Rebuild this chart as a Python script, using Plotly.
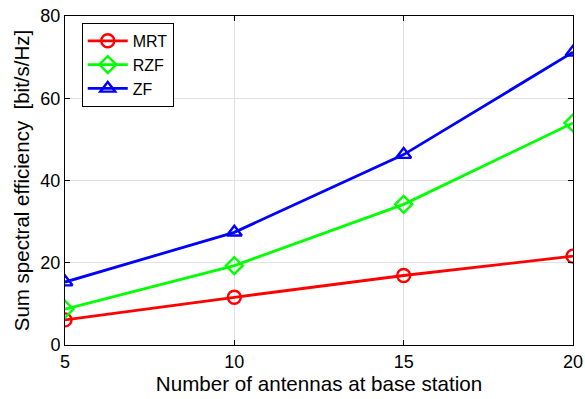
import plotly.graph_objects as go

antennas = [5, 10, 15, 20]
mrt = [6.1, 11.6, 16.9, 21.6]
rzf = [8.7, 19.3, 34.2, 54.0]
zf = [15.3, 27.4, 46.3, 71.2]

series = [("MRT", mrt, "#ff0000", "circle-open"),
          ("RZF", rzf, "#00ff00", "diamond-open"),
          ("ZF", zf, "#0000ff", "triangle-up-open")]

fig = go.Figure()
for name, vals, col, sym in series:
    fig.add_trace(go.Scatter(x=antennas, y=vals, name=name, mode="lines+markers",
                             line=dict(color=col, width=2.8),
                             marker=dict(symbol=sym, size=13, color=col,
                                         line=dict(color=col, width=2.4))))

axis_common = dict(showline=True, linecolor="black", linewidth=1, mirror="ticks",
                   ticks="inside", ticklen=5, tickcolor="black",
                   showgrid=True, gridcolor="#e1e1e1", gridwidth=1,
                   zeroline=False, automargin=False,
                   tickfont=dict(size=18, color="black"))

fig.update_layout(
    width=585, height=399,
    margin=dict(l=65, r=12, t=16, b=54),
    paper_bgcolor="white", plot_bgcolor="white",
    font=dict(family="Liberation Sans, Arial, sans-serif", color="black"),
    xaxis=dict(range=[5, 20], tickvals=[5, 10, 15, 20],
               title=dict(text="Number of antennas at base station", font=dict(size=20.6), standoff=4),
               **axis_common),
    yaxis=dict(range=[0, 80], tickvals=[0, 20, 40, 60, 80],
               title=dict(text="Sum spectral efficiency\u00a0\u00a0[bit/s/Hz]", font=dict(size=20.5), standoff=5),
               **axis_common),
    legend=dict(x=0.033, y=0.979, xanchor="left", yanchor="top",
                bgcolor="white", bordercolor="black", borderwidth=1,
                font=dict(size=16), itemwidth=40, tracegroupgap=0),
    showlegend=True,
)

fig.write_html("out.html", config={"displayModeBar": False},
               post_script="document.body.style.margin='0';document.body.style.padding='0';")
